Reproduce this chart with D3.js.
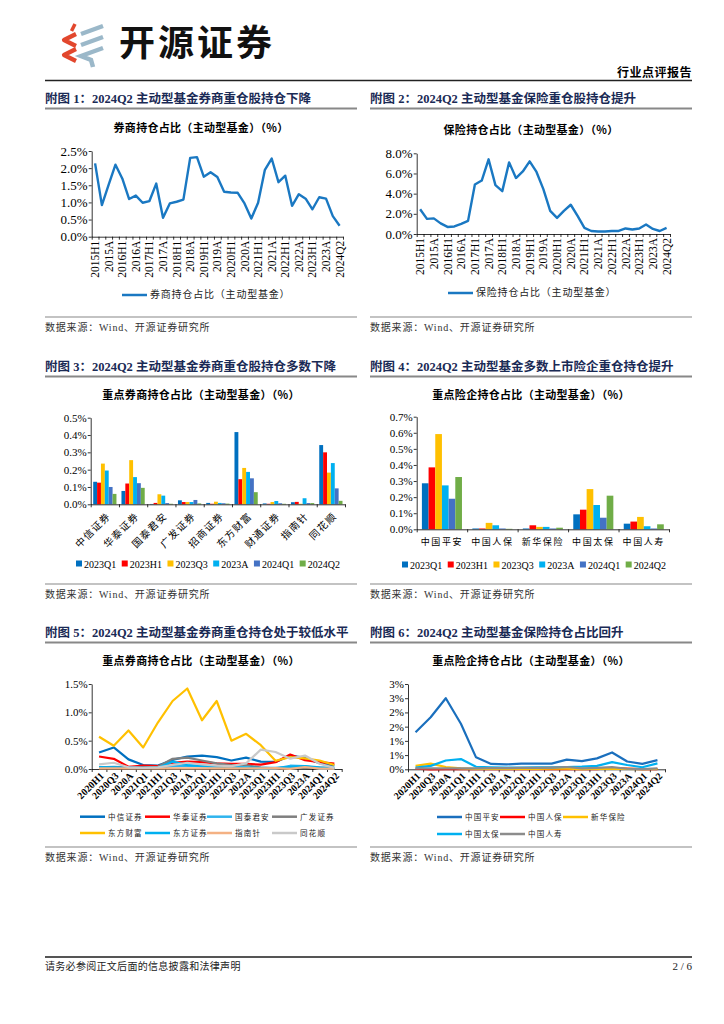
<!DOCTYPE html>
<html><head><meta charset="utf-8">
<script src="https://cdn.jsdelivr.net/npm/d3@7"></script>
<style>
body{margin:0;background:#fff;}
svg{display:block;}
</style></head><body>
<svg id="page" width="724" height="1024"></svg>
<script>
// ===================== DATA =====================
const quarters1 = ["2015H1","2015Q3","2015A","2016Q1","2016H1","2016Q3","2016A","2017Q1","2017H1","2017Q3","2017A","2018Q1","2018H1","2018Q3","2018A","2019Q1","2019H1","2019Q3","2019A","2020Q1","2020H1","2020Q3","2020A","2021Q1","2021H1","2021Q3","2021A","2022Q1","2022H1","2022Q3","2022A","2023Q1","2023H1","2023Q3","2023A","2024Q1","2024Q2"];
const brokerShare = [2.14,0.92,1.52,2.1,1.7,1.1,1.2,0.99,1.04,1.55,0.55,0.97,1.02,1.08,2.3,2.32,1.75,1.88,1.74,1.31,1.29,1.28,0.97,0.53,0.99,1.95,2.28,1.59,1.78,0.9,1.24,1.11,0.8,1.15,1.11,0.6,0.32];
const insuranceShare = [2.45,1.5,1.55,1.05,0.7,0.75,1.0,1.3,4.9,5.3,7.4,4.85,4.25,7.1,5.55,6.2,7.2,6.15,4.45,2.3,1.6,2.3,2.9,1.8,0.6,0.3,0.25,0.25,0.3,0.3,0.55,0.45,0.55,0.95,0.5,0.3,0.6];
const chart1Ticks = [0,0.5,1,1.5,2,2.5];
const chart1TickLabels = ["0.0%","0.5%","1.0%","1.5%","2.0%","2.5%"];
const chart2Ticks = [0,2,4,6,8];
const chart2TickLabels = ["0.0%","2.0%","4.0%","6.0%","8.0%"];

const periods = ["2023Q1","2023H1","2023Q3","2023A","2024Q1","2024Q2"];
const brokerCats = ["中信证券","华泰证券","国泰君安","广发证券","招商证券","东方财富","财通证券","指南针","同花顺"];
const b2023Q1 = [0.13,0.077,0.002,0.023,0.008,0.417,0.005,0.012,0.342];
const b2023H1 = [0.125,0.12,0.008,0.013,0.003,0.145,0.003,0.014,0.3];
const b2023Q3 = [0.235,0.255,0.058,0.013,0.015,0.21,0.013,0.003,0.183];
const b2023A  = [0.195,0.157,0.05,0.013,0.008,0.187,0.019,0.035,0.238];
const b2024Q1 = [0.1,0.122,0.007,0.025,0.006,0.15,0.006,0.007,0.092];
const b2024Q2 = [0.06,0.095,0.003,0.005,0.004,0.07,0.003,0.007,0.02];
const chart3Ticks = [0,0.1,0.2,0.3,0.4,0.5];
const chart3TickLabels = ["0.0%","0.1%","0.2%","0.3%","0.4%","0.5%"];

const insCats = ["中国平安","中国人保","新华保险","中国太保","中国人寿"];
const i2023Q1 = [0.286,0.005,0.005,0.093,0.035];
const i2023H1 = [0.385,0.005,0.025,0.122,0.048];
const i2023Q3 = [0.592,0.04,0.015,0.25,0.077];
const i2023A  = [0.273,0.025,0.015,0.151,0.019];
const i2024Q1 = [0.19,0.005,0.005,0.072,0.005];
const i2024Q2 = [0.325,0.003,0.01,0.209,0.031];
const chart4Ticks = [0,0.1,0.2,0.3,0.4,0.5,0.6,0.7];
const chart4TickLabels = ["0.0%","0.1%","0.2%","0.3%","0.4%","0.5%","0.6%","0.7%"];

const quarters2 = ["2020H1","2020Q3","2020A","2021Q1","2021H1","2021Q3","2021A","2022Q1","2022H1","2022Q3","2022A","2023Q1","2023H1","2023Q3","2023A","2024Q1","2024Q2"];
const citic    = [0.29,0.38,0.17,0.07,0.06,0.16,0.22,0.235,0.21,0.15,0.2,0.13,0.125,0.235,0.195,0.1,0.06];
const htsc     = [0.22,0.18,0.04,0.06,0.05,0.11,0.13,0.12,0.1,0.09,0.09,0.077,0.12,0.255,0.157,0.122,0.095];
const gtja     = [0.03,0.04,0.03,0.02,0.02,0.05,0.06,0.05,0.04,0.03,0.02,0.002,0.008,0.058,0.05,0.007,0.003];
const gfzq     = [0.03,0.03,0.02,0.03,0.04,0.18,0.2,0.15,0.1,0.07,0.07,0.023,0.013,0.013,0.013,0.025,0.005];
const eastmoney= [0.57,0.41,0.68,0.38,0.82,1.2,1.42,0.86,1.2,0.5,0.62,0.42,0.145,0.21,0.187,0.15,0.07];
const dfzq     = [0.035,0.03,0.02,0.02,0.02,0.13,0.07,0.05,0.04,0.03,0.03,0.02,0.02,0.04,0.05,0.03,0.02];
const compass  = [0.01,0.01,0.01,0.01,0.01,0.01,0.01,0.01,0.01,0.01,0.01,0.012,0.014,0.003,0.035,0.007,0.007];
const hithink  = [0.08,0.11,0.03,0.02,0.03,0.07,0.11,0.08,0.06,0.05,0.1,0.342,0.3,0.183,0.238,0.092,0.02];
const chart5Ticks = [0,0.5,1,1.5];
const chart5TickLabels = ["0.0%","0.5%","1.0%","1.5%"];

const pingan  = [1.3,1.83,2.5,1.6,0.42,0.19,0.17,0.2,0.2,0.2,0.34,0.286,0.385,0.592,0.273,0.19,0.325];
const picc    = [0.02,0.0,0.005,0.005,0.005,0.005,0.005,0.005,0.005,0.005,0.005,0.005,0.005,0.04,0.025,0.005,0.003];
const nci     = [0.12,0.2,0.08,0.035,0.015,0.015,0.01,0.01,0.015,0.02,0.02,0.005,0.025,0.015,0.015,0.005,0.01];
const cpic    = [0.06,0.12,0.31,0.36,0.09,0.07,0.06,0.06,0.07,0.07,0.08,0.093,0.122,0.25,0.151,0.072,0.209];
const chinalife=[0.03,0.03,0.03,0.03,0.03,0.04,0.04,0.05,0.05,0.06,0.08,0.035,0.048,0.077,0.019,0.005,0.031];
const chart6Ticks = [0,0.5,1,1.5,2,2.5,3];
const chart6TickLabels = ["0%","1%","1%","2%","2%","3%","3%"];

// ===================== STYLE =====================
const SERIF = '"Liberation Serif","Times New Roman","Noto Sans CJK SC",serif';
const CJKF = '"Noto Sans CJK SC","Liberation Serif",sans-serif';
const C = {blue:"#0070c0", red:"#ff0000", yellow:"#ffc000", cyan:"#00b0f0", slate:"#4472c4", green:"#70ad47",
  grey:"#7f7f7f", lgrey:"#c9c9c9", salmon:"#f4b183", cyan2:"#2fb4ee", title:"#1a2a55"};

const svg = d3.select("#page");

function txt(x,y,s,o={}){
  const t = svg.append("text").attr("x",x).attr("y",y).text(s)
    .attr("font-family",o.ff||SERIF).attr("font-size",o.fs||11)
    .attr("font-weight",o.fw||"normal").attr("fill",o.fill||"#000")
    .attr("text-anchor",o.anchor||"start");
  if(o.ls!==undefined) t.attr("letter-spacing",o.ls);
  return t;
}
function hline(x1,x2,y,col,w){
  svg.append("line").attr("x1",x1).attr("x2",x2).attr("y1",y).attr("y2",y).attr("stroke",col).attr("stroke-width",w);
}

// ===================== HEADER =====================
const logo = svg.append("g");
logo.append("path").attr("d","M75,24 L71.5,31").attr("stroke","#e2472d").attr("stroke-width",3.5).attr("fill","none");
logo.append("path").attr("d","M76,34 L64,40 L76,46").attr("stroke","#e2472d").attr("stroke-width",4.2).attr("fill","none").attr("stroke-linejoin","round");
logo.append("path").attr("d","M76,49 L64,55 L76,61").attr("stroke","#e2472d").attr("stroke-width",4.2).attr("fill","none").attr("stroke-linejoin","round");
logo.append("path").attr("d","M103,26 L81,34").attr("stroke","#9bb8c9").attr("stroke-width",4.5).attr("fill","none");
logo.append("path").attr("d","M103,37 L81,45").attr("stroke","#9bb8c9").attr("stroke-width",4.5).attr("fill","none");
logo.append("path").attr("d","M103,48 L81,56 L91,60 L93,67").attr("stroke","#9bb8c9").attr("stroke-width",4.5).attr("fill","none");
txt(119,56,"开源证券",{ff:CJKF,fs:36,fw:"bold",fill:"#111",ls:3});
txt(692,77,"行业点评报告",{ff:CJKF,fs:12,fw:"bold",anchor:"end",ls:0.5});
hline(45,692,80.5,"#222",1.5);

// section titles
function section(x1,x2,yBase,label){
  txt(x1,yBase,label,{fs:12.5,fw:"bold",fill:C.title});
  hline(x1,x2,yBase+6,"#888",2);
}
function source(x1,x2,yLine){
  hline(x1,x2,yLine,"#888",1.2);
  txt(x1,yLine+14,"数据来源：Wind、开源证券研究所",{fs:10,fill:"#333",ls:0.8});
}

// ===================== AXES HELPERS =====================
function styleAxis(s){
  s.select(".domain").attr("stroke","#000").attr("stroke-width",0.8);
  s.selectAll(".tick line").attr("stroke","#000").attr("stroke-width",0.8);
}
function yAxis(g,y,x0,ticks,labels,fs){
  const s = g.append("g").attr("transform",`translate(${x0},0)`)
    .call(d3.axisLeft(y).tickValues(ticks).tickSize(3).tickSizeOuter(0).tickPadding(1).tickFormat((d,i)=>labels[i]));
  styleAxis(s);
  s.selectAll("text").attr("font-family",SERIF).attr("font-size",fs).attr("fill","#000");
}
function xBase(g,n,x0,x1,y0){
  const xl = d3.scaleLinear().domain([0,n]).range([x0,x1]);
  const s = g.append("g").attr("transform",`translate(0,${y0})`)
    .call(d3.axisBottom(xl).tickValues(d3.range(n+1)).tickSize(3).tickSizeOuter(0).tickFormat(""));
  styleAxis(s);
}

function lineChart(c){
  const g = svg.append("g");
  const n = c.cats.length, bw = (c.x1-c.x0)/n;
  const x = d3.scalePoint().domain(c.cats).range([c.x0+bw/2, c.x1-bw/2]);
  const y = d3.scaleLinear().domain([0,c.yMax]).range([c.y0,c.y1]);
  xBase(g,n,c.x0,c.x1,c.y0);
  yAxis(g,y,c.x0,c.ticks,c.tickLabels,c.tickFs);
  c.cats.forEach((cat,i)=>{
    if(i % c.every) return;
    const t = g.append("text").text(cat).attr("font-family",SERIF).attr("font-size",c.labFs)
      .attr("font-weight",c.labFw||"normal").attr("text-anchor","end").attr("dy","0.35em");
    if(c.rot===-90) t.attr("transform",`translate(${x(cat)},${c.y0+4}) rotate(-90)`);
    else t.attr("transform",`translate(${x(cat)+3},${c.y0+5}) rotate(-45)`);
  });
  const line = d3.line().x((d,i)=>x(c.cats[i])).y(d=>y(d));
  c.series.forEach(s=>{
    g.append("path").datum(s.values).attr("d",line).attr("fill","none")
      .attr("stroke",s.color).attr("stroke-width",c.lw||2.2).attr("stroke-linejoin","round");
  });
}

function barChart(c){
  const g = svg.append("g");
  const x = d3.scaleBand().domain(c.cats).range([c.x0,c.x1]).padding(0);
  const xi = d3.scaleBand().domain(c.series.map(s=>s.name)).range([c.gpad,x.bandwidth()-c.gpad]).padding(0);
  const y = d3.scaleLinear().domain([0,c.yMax]).range([c.y0,c.y1]);
  c.series.forEach(s=>{
    g.selectAll(null).data(s.values).join("rect")
      .attr("x",(d,i)=>x(c.cats[i])+xi(s.name)).attr("y",d=>y(d))
      .attr("width",xi.bandwidth()).attr("height",d=>c.y0-y(d)).attr("fill",s.color);
  });
  xBase(g,c.cats.length,c.x0,c.x1,c.y0);
  yAxis(g,y,c.x0,c.ticks,c.tickLabels,c.tickFs);
  c.cats.forEach(cat=>{
    const cx = x(cat)+x.bandwidth()/2;
    const t = g.append("text").text(cat).attr("font-family",CJKF).attr("font-size",c.labFs);
    if(c.rotate){
      t.attr("text-anchor","end").attr("dy","0.35em").attr("letter-spacing",1.2)
       .attr("transform",`translate(${cx+4},${c.y0+10}) rotate(-45)`);
    } else {
      t.attr("text-anchor","middle").attr("x",cx).attr("y",c.y0+16).attr("letter-spacing",1.6);
    }
  });
  // legend
  let lx = c.legX;
  c.series.forEach(s=>{
    g.append("rect").attr("x",lx).attr("y",c.legY-3.5).attr("width",6).attr("height",6).attr("fill",s.color);
    const t = g.append("text").text(s.name).attr("x",lx+8).attr("y",c.legY+3.5)
      .attr("font-family",SERIF).attr("font-size",10);
    lx += 8 + t.node().getComputedTextLength() + 5.5;
  });
}

function lineLegend(items,cols,rows,len,fs,ls){
  items.forEach((it,i)=>{
    const cx = cols[i % cols.length], cy = rows[Math.floor(i/cols.length)];
    svg.append("line").attr("x1",cx).attr("x2",cx+len).attr("y1",cy).attr("y2",cy)
      .attr("stroke",it.color).attr("stroke-width",2.5);
    txt(cx+len+3,cy+3,it.name,{ff:CJKF,fs:fs,ls:ls,fill:"#222"});
  });
}

// ===================== CHART 1 =====================
section(45,357,102.5,"附图 1：2024Q2 主动型基金券商重仓股持仓下降");
txt(201,132,"券商持仓占比（主动型基金）（%）",{ff:CJKF,fs:11,fw:"bold",anchor:"middle",ls:0.3});
lineChart({cats:quarters1,x0:91.7,x1:343,y0:236.7,y1:151,yMax:2.5,ticks:chart1Ticks,tickLabels:chart1TickLabels,
  tickFs:13,every:2,rot:-90,labFs:11.5,series:[{values:brokerShare,color:"#1a78c2"}],lw:2.4});
lineLegend([{name:"券商持仓占比（主动型基金）",color:"#1a78c2"}],[122],[295],25,10,0.8);
source(45,357,317);

// ===================== CHART 2 =====================
section(370,692,102.5,"附图 2：2024Q2 主动型基金保险重仓股持仓提升");
txt(531,134,"保险持仓占比（主动型基金）（%）",{ff:CJKF,fs:11,fw:"bold",anchor:"middle",ls:0.3});
lineChart({cats:quarters1,x0:416.7,x1:670,y0:234,y1:153.3,yMax:8,ticks:chart2Ticks,tickLabels:chart2TickLabels,
  tickFs:13,every:2,rot:-90,labFs:11.5,series:[{values:insuranceShare,color:"#1a78c2"}],lw:2.4});
lineLegend([{name:"保险持仓占比（主动型基金）",color:"#1a78c2"}],[448],[293],25,10,0.8);
source(370,692,317);

// ===================== CHART 3 =====================
section(45,357,370.5,"附图 3：2024Q2 主动型基金券商重仓股持仓多数下降");
txt(201,399,"重点券商持仓占比（主动型基金）（%）",{ff:CJKF,fs:11,fw:"bold",anchor:"middle",ls:0.3});
const bColors = [C.blue,C.red,C.yellow,C.cyan,C.slate,C.green];
const bVals = [b2023Q1,b2023H1,b2023Q3,b2023A,b2024Q1,b2024Q2];
barChart({cats:brokerCats,x0:90.7,x1:345,y0:504.3,y1:417.7,yMax:0.5,ticks:chart3Ticks,tickLabels:chart3TickLabels,tickFs:11,
  gpad:2.5,rotate:true,labFs:10,legX:76,legY:564,
  series:periods.map((p,i)=>({name:p,values:bVals[i],color:bColors[i]}))});
source(45,357,584);

// ===================== CHART 4 =====================
section(370,692,370.5,"附图 4：2024Q2 主动型基金多数上市险企重仓持仓提升");
txt(531,399,"重点险企持仓占比（主动型基金）（%）",{ff:CJKF,fs:11,fw:"bold",anchor:"middle",ls:0.3});
const iVals = [i2023Q1,i2023H1,i2023Q3,i2023A,i2024Q1,i2024Q2];
barChart({cats:insCats,x0:416.7,x1:669,y0:529.3,y1:416.7,yMax:0.7,ticks:chart4Ticks,tickLabels:chart4TickLabels,tickFs:11,
  gpad:5.2,rotate:false,labFs:9,legX:402,legY:565,
  series:periods.map((p,i)=>({name:p,values:iVals[i],color:bColors[i]}))});
source(370,692,584);

// ===================== CHART 5 =====================
section(45,357,636.5,"附图 5：2024Q2 主动型基金券商重仓持仓处于较低水平");
txt(201,665,"重点券商持仓占比（主动型基金）（%）",{ff:CJKF,fs:11,fw:"bold",anchor:"middle",ls:0.3});
const s5 = [
  {name:"中信证券",values:citic,color:C.blue},
  {name:"华泰证券",values:htsc,color:C.red},
  {name:"国泰君安",values:gtja,color:C.cyan2},
  {name:"广发证券",values:gfzq,color:C.grey},
  {name:"东方财富",values:eastmoney,color:C.yellow},
  {name:"东方证券",values:dfzq,color:C.cyan},
  {name:"指南针",values:compass,color:C.salmon},
  {name:"同花顺",values:hithink,color:C.lgrey}];
lineChart({cats:quarters2,x0:91.7,x1:341.7,y0:769,y1:684,yMax:1.5,ticks:chart5Ticks,tickLabels:chart5TickLabels,
  tickFs:11,every:1,rot:-45,labFs:10,labFw:"bold",series:s5,lw:2.2});
lineLegend(s5,[80,145,207,272],[816.7,833],25,7.5,1.2);
source(45,357,847);

// ===================== CHART 6 =====================
section(370,692,636.5,"附图 6：2024Q2 主动型基金保险持仓占比回升");
txt(531,665,"重点险企持仓占比（主动型基金）（%）",{ff:CJKF,fs:11,fw:"bold",anchor:"middle",ls:0.3});
const s6 = [
  {name:"中国平安",values:pingan,color:"#1a6fbd"},
  {name:"中国人保",values:picc,color:C.red},
  {name:"新华保险",values:nci,color:C.yellow},
  {name:"中国太保",values:cpic,color:C.cyan},
  {name:"中国人寿",values:chinalife,color:"#8c8c8c"}];
lineChart({cats:quarters2,x0:408,x1:665,y0:769.3,y1:684,yMax:3,ticks:chart6Ticks,tickLabels:chart6TickLabels,
  tickFs:11,every:1,rot:-45,labFs:10,labFw:"bold",series:s6,lw:2.2});
lineLegend(s6,[437,500,563],[817,834],25,7.5,1.2);
source(370,692,847);

// ===================== FOOTER =====================
hline(45,692,957,"#555",1.8);
txt(45,970,"请务必参阅正文后面的信息披露和法律声明",{fs:10,fill:"#222",ls:0.3});
txt(692,970,"2 / 6",{fs:11,anchor:"end",fill:"#222"});
</script></body></html>
